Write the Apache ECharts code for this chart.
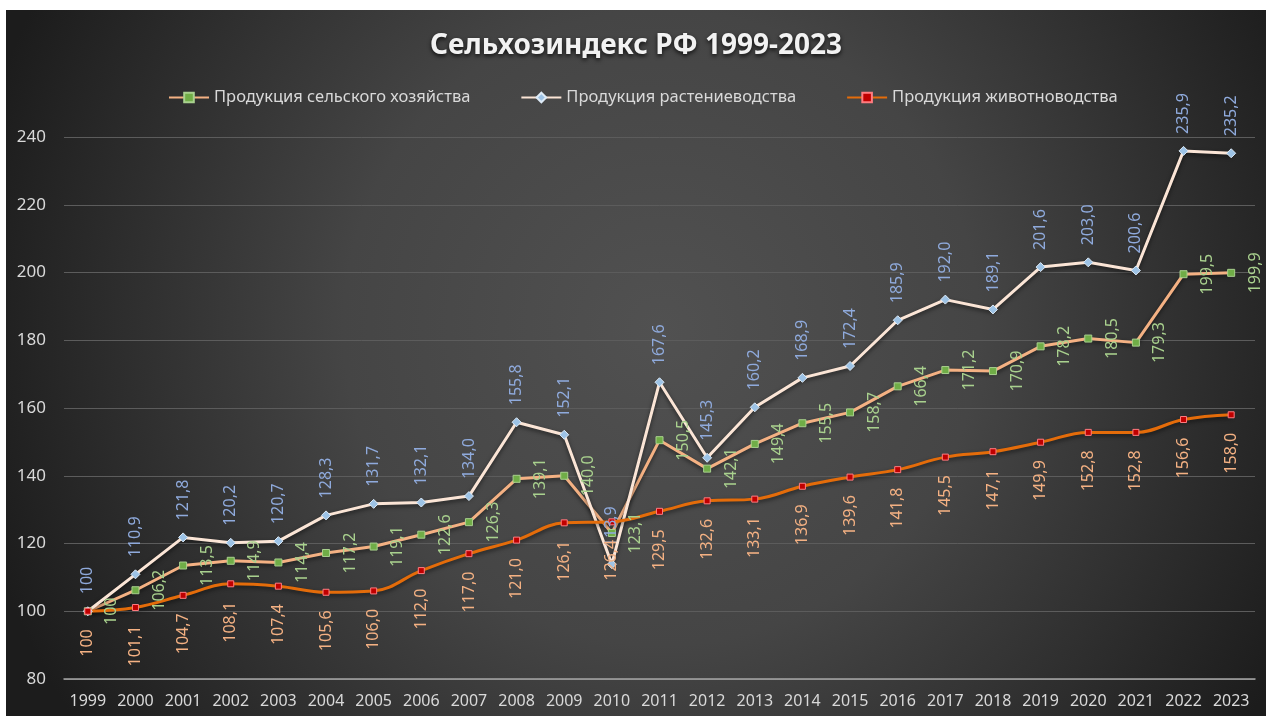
<!DOCTYPE html>
<html>
<head>
<meta charset="utf-8">
<script src="https://cdn.jsdelivr.net/npm/echarts@6/dist/echarts.min.js"></script>
<style>
html,body{margin:0;padding:0;background:#ffffff;}
#c{position:absolute;left:6px;top:10px;width:1260px;height:706px;}
</style>
</head>
<body>
<div id="c"></div>
<script>
const years = ['1999','2000','2001','2002','2003','2004','2005','2006','2007','2008','2009','2010','2011','2012','2013','2014','2015','2016','2017','2018','2019','2020','2021','2022','2023'];
const agriculture = [100,106.2,113.5,114.9,114.4,117.2,119.1,122.6,126.3,139.1,140.0,123.1,150.5,142.1,149.4,155.5,158.7,166.4,171.2,170.9,178.2,180.5,179.3,199.5,199.9];
const cropProduction = [100,110.9,121.8,120.2,120.7,128.3,131.7,132.1,134.0,155.8,152.1,113.9,167.6,145.3,160.2,168.9,172.4,185.9,192.0,189.1,201.6,203.0,200.6,235.9,235.2];
const livestock = [100,101.1,104.7,108.1,107.4,105.6,106.0,112.0,117.0,121.0,126.1,126.4,129.5,132.6,133.1,136.9,139.6,141.8,145.5,147.1,149.9,152.8,152.8,156.6,158.0];
const seriesNames = ['Продукция сельского хозяйства','Продукция растениеводства','Продукция животноводства'];
const titleText = 'Сельхозиндекс РФ 1999-2023';

const FONT = 'Noto Sans';
function fmt(p){
  if (p.dataIndex === 0) return '100';
  return Number(p.value).toFixed(1).replace('.', ',');
}
const shadow = {shadowColor:'rgba(0,0,0,0.55)', shadowBlur:4, shadowOffsetY:2};

const chart = echarts.init(document.getElementById('c'));
chart.setOption({
  backgroundColor: new echarts.graphic.RadialGradient(0.52, 0.45, 1.0, [
    {offset:0, color:'#515151'},
    {offset:0.45, color:'#454545'},
    {offset:1, color:'#1c1c1c'}
  ]),
  animation:false,
  title:{
    text:titleText, left:'center', top:17,
    textStyle:{color:'#f2f2f2', fontFamily:FONT, fontSize:28, fontWeight:'bold',
      textShadowColor:'rgba(0,0,0,0.8)', textShadowBlur:4, textShadowOffsetY:2}
  },
  legend:{
    left:157, top:74, itemWidth:40, itemHeight:12, itemGap:50,
    textStyle:{color:'#d9d9d9', fontFamily:FONT, fontSize:16.5},
    data:seriesNames
  },
  grid:{left:58, right:11, top:127, bottom:37},
  xAxis:{
    type:'category', data:years, boundaryGap:true,
    axisLine:{lineStyle:{color:'#a6a6a6', width:1.5}},
    axisTick:{show:false},
    axisLabel:{color:'#d9d9d9', fontFamily:FONT, fontSize:16, margin:14, interval:0}
  },
  yAxis:{
    type:'value', min:80, max:240, interval:20,
    axisLine:{show:false}, axisTick:{show:false},
    splitLine:{lineStyle:{color:'#5c5c5c', width:1}},
    axisLabel:{color:'#d9d9d9', fontFamily:FONT, fontSize:17, margin:18}
  },
  series:[
    {
      name:seriesNames[0], type:'line', data:agriculture, smooth:false,
      symbol:'rect', symbolSize:7,
      lineStyle:Object.assign({color:'#f4b183', width:3}, shadow),
      itemStyle:{color:'#70ad47', borderColor:'#a9d18e', borderWidth:1},
      label:{show:true, position:'inside', rotate:90, align:'center', verticalAlign:'middle',
        offset:[0,24], formatter:fmt, color:'#a9d18e', fontFamily:FONT, fontSize:16}
    },
    {
      name:seriesNames[1], type:'line', data:cropProduction, smooth:false,
      symbol:'diamond', symbolSize:9,
      lineStyle:Object.assign({color:'#fbe5d6', width:3}, shadow),
      itemStyle:{color:'#9dc3e6', borderColor:'#deebf7', borderWidth:1},
      label:{show:true, position:'inside', rotate:90, align:'left', verticalAlign:'middle',
        offset:[17,0], formatter:fmt, color:'#8faadc', fontFamily:FONT, fontSize:16}
    },
    {
      name:seriesNames[2], type:'line', data:livestock, smooth:0.4,
      symbol:'rect', symbolSize:6,
      lineStyle:Object.assign({color:'#e46c0a', width:3}, shadow),
      itemStyle:{color:'#c00000', borderColor:'#ff7c80', borderWidth:1},
      label:{show:true, position:'inside', rotate:90, align:'right', verticalAlign:'middle',
        offset:[-18,0], formatter:fmt, color:'#f4b183', fontFamily:FONT, fontSize:16}
    }
  ]
});
</script>
</body>
</html>
